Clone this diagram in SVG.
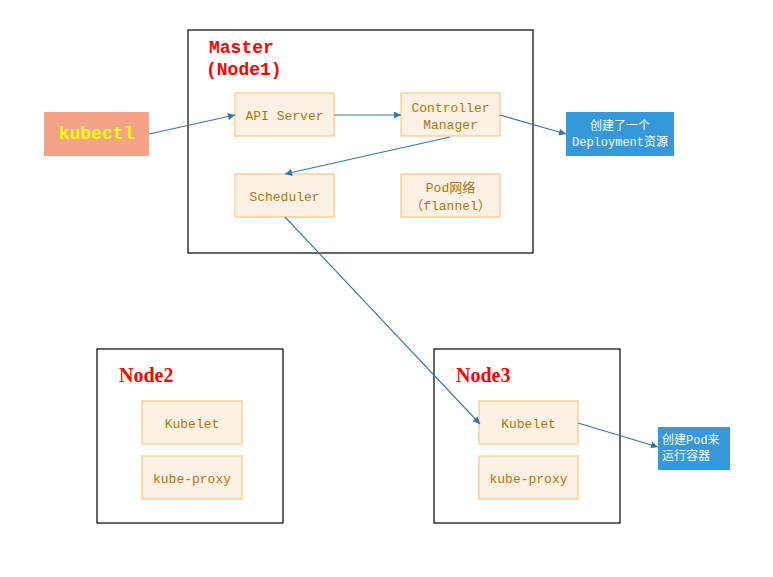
<svg xmlns="http://www.w3.org/2000/svg" width="773" height="577" viewBox="0 0 773 577">
<defs>
<style>
.frame{fill:#fff;stroke:#000;stroke-width:1.2}
.comp{fill:#FDF1E5;stroke:#FFC67F;stroke-width:1.2}
.ct{font-family:"Liberation Mono","Noto Sans CJK SC",monospace;font-size:13px;fill:#A8780E;text-anchor:middle}
.title{font-family:"Liberation Mono","Noto Sans CJK SC",monospace;font-size:18px;font-weight:bold;fill:#FF0000}
.ntitle{font-family:"Liberation Serif",serif;font-size:20px;font-weight:bold;fill:#FF0000}
.note{fill:#3498DB}
.nt{font-family:"Liberation Mono","Noto Sans CJK SC",monospace;font-size:12px;fill:#fff}
.conn line{stroke:#3574AE;stroke-width:1.1;fill:none;marker-end:url(#arr)}
</style>
<marker id="arr" viewBox="0 0 10 10" refX="10" refY="5" markerWidth="9" markerHeight="7" markerUnits="userSpaceOnUse" orient="auto">
<path d="M0,0 L10,5 L0,10 z" fill="#3574AE"/>
</marker>
</defs>
<rect width="773" height="577" fill="#fff"/>
<g id="master">
<rect class="frame" x="188" y="30" width="345" height="223"/>
<text class="title" x="209" y="53">Master</text>
<text class="title" x="206" y="75">(Node1)</text>
</g>
<g id="node2">
<rect class="frame" x="97" y="349" width="186" height="174"/>
<text class="ntitle" x="119" y="382">Node2</text>
</g>
<g id="node3">
<rect class="frame" x="434" y="349" width="186" height="174"/>
<text class="ntitle" x="456" y="382">Node3</text>
</g>
<g id="kubectl">
<rect x="44" y="112" width="105" height="44" fill="#F4A486"/>
<text x="96.5" y="139" text-anchor="middle" font-family="Liberation Mono, monospace" font-size="18" font-weight="bold" fill="#FFFF00">kubectl</text>
</g>
<g id="api-server">
<rect class="comp" x="235" y="93" width="99" height="43"/>
<text class="ct" x="284.5" y="120">API Server</text>
</g>
<g id="controller-manager">
<rect class="comp" x="401" y="93" width="99" height="43"/>
<text class="ct" x="450.5" y="112">Controller</text>
<text class="ct" x="450.5" y="129">Manager</text>
</g>
<g id="scheduler">
<rect class="comp" x="235" y="174" width="99" height="43"/>
<text class="ct" x="284.5" y="201">Scheduler</text>
</g>
<g id="pod-network">
<rect class="comp" x="401" y="174" width="99" height="43"/>
<text class="ct" x="450.5" y="192">Pod网络</text>
<text class="ct" x="450.5" y="210">（flannel）</text>
</g>
<g id="node2-kubelet">
<rect class="comp" x="142" y="401" width="100" height="43"/>
<text class="ct" x="192" y="428">Kubelet</text>
</g>
<g id="node2-kube-proxy">
<rect class="comp" x="142" y="456" width="100" height="43"/>
<text class="ct" x="192" y="483">kube-proxy</text>
</g>
<g id="node3-kubelet">
<rect class="comp" x="479" y="401" width="99" height="43"/>
<text class="ct" x="528.5" y="428">Kubelet</text>
</g>
<g id="node3-kube-proxy">
<rect class="comp" x="479" y="456" width="99" height="43"/>
<text class="ct" x="528.5" y="483">kube-proxy</text>
</g>
<g id="note-deployment">
<rect class="note" x="566" y="112" width="108" height="44"/>
<text class="nt" x="620" y="130" text-anchor="middle">创建了一个</text>
<text class="nt" x="620" y="146" text-anchor="middle">Deployment资源</text>
</g>
<g id="note-pod">
<rect class="note" x="658" y="427" width="72" height="43"/>
<text class="nt" x="662" y="444" font-size="13">创建Pod来</text>
<text class="nt" x="662" y="460" font-size="13">运行容器</text>
</g>
<g id="connectors" class="conn">
<line x1="149" y1="134" x2="235" y2="115"/>
<line x1="334" y1="115" x2="401" y2="115"/>
<line x1="500" y1="115" x2="566" y2="134"/>
<line x1="450" y1="137" x2="285" y2="174"/>
<line x1="285" y1="217" x2="480" y2="424"/>
<line x1="578" y1="423" x2="658" y2="447"/>
</g>
</svg>
